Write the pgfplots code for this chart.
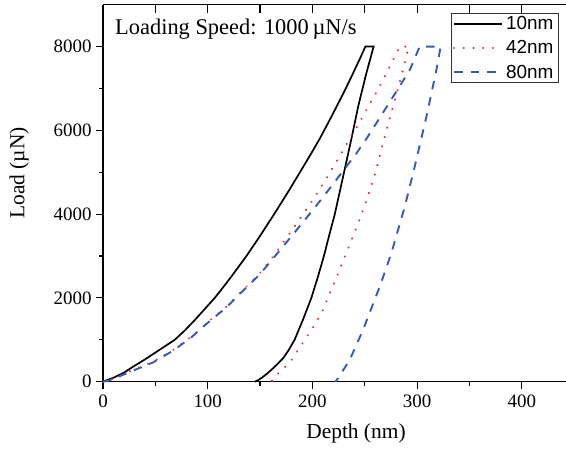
\documentclass[border=0pt]{standalone}
\usepackage{fontspec}
\setmainfont{Liberation Serif}
\newfontfamily\arial{Liberation Sans}
\usepackage{pgfplots}
\pgfplotsset{compat=1.18}
\definecolor{myred}{RGB}{232,40,40}
\definecolor{myblue}{RGB}{55,90,185}

\begin{document}
\begin{tikzpicture}
\begin{axis}[
  scale only axis, width=465.9bp, height=377bp,
  xmin=0, xmax=445, ymin=0, ymax=9000,
  at={(0,0)}, anchor=south west,
  axis line style={line width=1.1bp},
  every tick/.style={line width=1.1bp, black},
  axis x line*=bottom, axis y line*=left,
  tick align=outside,
  xtick={0,100,200,300,400}, minor xtick={50,150,250,350},
  ytick={0,2000,4000,6000,8000}, minor ytick={1000,3000,5000,7000},
  major tick length=7bp, minor tick length=4bp,
  scaled y ticks=false,
  yticklabel style={/pgf/number format/1000 sep={}},
  ticklabel style={font=\fontsize{19}{19}\selectfont},
  /pgf/number format/assume math mode=true,
  xticklabel style={yshift=-3bp},
  yticklabel style={xshift=-1bp},
  xlabel={Depth (nm)}, ylabel={Load (µN)},
  label style={font=\fontsize{21.5}{21.5}\selectfont},
  xlabel style={at={(axis description cs:0.543,-0.138)}, anchor=center},
  ylabel style={at={(axis description cs:-0.18,0.554)}, anchor=center},
  legend style={at={(rel axis cs:0.747,0.9886)}, anchor=north west, yshift=-4bp,
    draw=black!80, line width=0.8bp, fill=white,
    font=\arial\fontsize{19}{19}\selectfont,
    inner xsep=1.5bp, inner ysep=2.5bp, row sep=8.5bp,
    nodes={inner xsep=3bp, inner ysep=0.5bp},
    legend image code/.code={\draw[#1] (0bp,0bp) -- (48bp,0bp);}},
  legend cell align=left,
  clip=false,
]
\addplot[black, line width=1.7bp] coordinates {
 (0,0) (10,95) (20,215) (28.7,358) (39,515) (49,678) (58.5,835) (68.5,1000)
 (78,1220) (87.6,1470) (97,1730) (106.7,2000) (114.5,2245) (122,2490)
 (129.5,2745) (137,3000) (150,3480) (164,4020) (178,4580)
 (191,5120) (199,5455) (207,5800) (215,6175) (223,6563) (231,6955)
 (238.8,7360) (245,7690) (250.6,8000) (258.5,8000)
 (255,7680) (251.5,7360) (244,6600) (237,5768) (228.6,4814) (221.3,3990)
 (216,3490) (211,3000) (205,2480) (199,2000) (191,1480) (183,1000)
 (177,740) (172,560) (167,430) (162.4,320) (157,200) (152,100) (148,35) (145,0)};
\addlegendentry{10nm}
\addplot[myred, line width=2.2bp, line cap=round, dash pattern=on 0.1bp off 9.6bp] coordinates {
 (0,0) (6.4,40) (28.7,280) (47.8,478) (66.9,757) (84.4,1074) (98.8,1393)
 (117.9,1790) (133.7,2189) (149.7,2587) (162.4,2983) (178.3,3541)
 (191,3990) (202,4400) (213.4,4854) (223,5251) (234,5728) (244,6150)
 (254,6590) (264,7041) (272.2,7439) (277,7678) (283.4,8000) (292,8000)
 (284,7200) (277,6563) (268,5750) (260,4974) (252,4350) (244,3800)
 (236,3300) (228,2800) (219,2250) (210,1711) (202,1350) (194,1050)
 (187,780) (180,518) (172,300) (164,120) (161,0)};
\addlegendentry{42nm}
\addplot[myblue, line width=1.9bp, dash pattern=on 8.5bp off 8bp] coordinates {
 (0,0) (6.4,30) (28.7,265) (47.8,460) (66.9,740) (84.4,1060) (98.8,1380)
 (117.9,1775) (133.7,2170) (149.7,2560) (162.4,2940) (178.3,3420)
 (194,3900) (210,4400) (221,4760) (230.8,5080) (242,5450) (251.6,5800)
 (261,6167) (269,6484) (281,6960) (293,7439) (302.5,8000) (322.5,8000)
 (318.4,7439) (308.9,6325) (297.7,5131) (288.2,4177) (275.4,3064)
 (264.3,2268) (248.3,1233) (235.6,517) (224.4,80) (222,0)};
\addlegendentry{80nm}
\node[anchor=base west, font=\fontsize{22.5}{22.5}\selectfont, inner sep=0pt]
  at (axis cs:11.5,8300) {Loading Speed: 1000\,µN/s};
\end{axis}
% top border with inward ticks every 50 nm (1 nm = 465.9/445 bp)
\draw[line width=1.1bp] (0bp,377bp) -- (466bp,377bp);
\draw[line width=1.2bp]
  (0bp,377bp) -- (0bp,369bp)
  (52.35bp,377bp) -- (52.35bp,369bp)
  (104.7bp,377bp) -- (104.7bp,369bp)
  (157.05bp,377bp) -- (157.05bp,369bp)
  (209.4bp,377bp) -- (209.4bp,369bp)
  (261.75bp,377bp) -- (261.75bp,369bp)
  (314.1bp,377bp) -- (314.1bp,369bp)
  (366.45bp,377bp) -- (366.45bp,369bp)
  (418.8bp,377bp) -- (418.8bp,369bp);
\pgfresetboundingbox
\useasboundingbox (-103bp,-68.3bp) rectangle (463bp,381.7bp);
\end{tikzpicture}
\end{document}
